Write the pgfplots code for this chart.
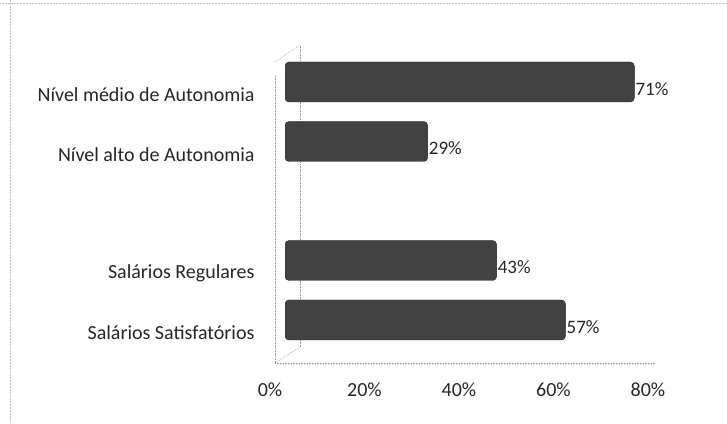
\documentclass[border=0pt]{standalone}
\usepackage{fontspec}
\setmainfont{Carlito}
\usepackage{pgfplots}
\pgfplotsset{compat=1.18}

\definecolor{barfill}{HTML}{424242}
\definecolor{baredge}{HTML}{1E1E1E}
\definecolor{wall}{HTML}{9A9A9A}

\begin{document}
\begin{tikzpicture}[x=1pt,y=1pt]
\useasboundingbox (0,0) rectangle (727,423);

% outer frame edges
\draw[wall!60, densely dotted, line width=0.5pt] (0,420) -- (727,420);
\draw[wall!60, densely dotted, line width=0.5pt] (10,423) -- (10,0);

% 3D walls and floor
\draw[wall, densely dotted, line width=0.6pt] (275,60) -- (655,60);
\draw[wall, densely dotted, line width=0.6pt] (275,60) -- (275,348);
\draw[wall, densely dotted, line width=0.6pt] (300,76) -- (300,378);
\draw[wall, densely dotted, line width=0.6pt] (275,361) -- (300,378);
\draw[wall, densely dotted, line width=0.6pt] (275,60) -- (300,76);

% front plane: category names and percentage scale
\begin{axis}[
  at={(270pt,357.65pt)}, anchor=north west,
  scale only axis, width=378pt, height=297.7pt,
  xmin=0, xmax=80, ymin=-0.5, ymax=4.52,
  y dir=reverse,
  axis line style={draw=none},
  major tick length=0pt,
  xtick={0,20,40,60,80},
  xticklabels={0\%,20\%,40\%,60\%,80\%},
  ytick={0,1,3,4},
  yticklabels={Nível médio de Autonomia,Nível alto de Autonomia,Salários Regulares,Salários Satisfatórios},
  /pgf/number format/assume math mode=true,
  tick label style={font=\fontsize{20}{22}\selectfont, text=black!85},
  xticklabel style={yshift=-16pt},
  yticklabel style={anchor=east, xshift=-12pt},
]
\end{axis}

% back plane: bars
\begin{axis}[
  at={(285pt,370.75pt)}, anchor=north west,
  scale only axis, width=393.6pt, height=297.5pt,
  xmin=0, xmax=80, ymin=-0.5, ymax=4.5,
  y dir=reverse,
  hide axis,
  xbar, bar width=40pt,
  nodes near coords={\pgfmathprintnumber{\pgfplotspointmeta}\%},
  nodes near coords style={anchor=west, inner sep=1pt, yshift=-7pt,
    font=\fontsize{19}{21}\selectfont, text=black!85},
  /pgf/number format/assume math mode=true,
]
\addplot[fill=barfill, draw=baredge, rounded corners=4pt] coordinates {
  (71,0) (29,1) (43,3) (57,4)
};
\end{axis}
\end{tikzpicture}
\end{document}
